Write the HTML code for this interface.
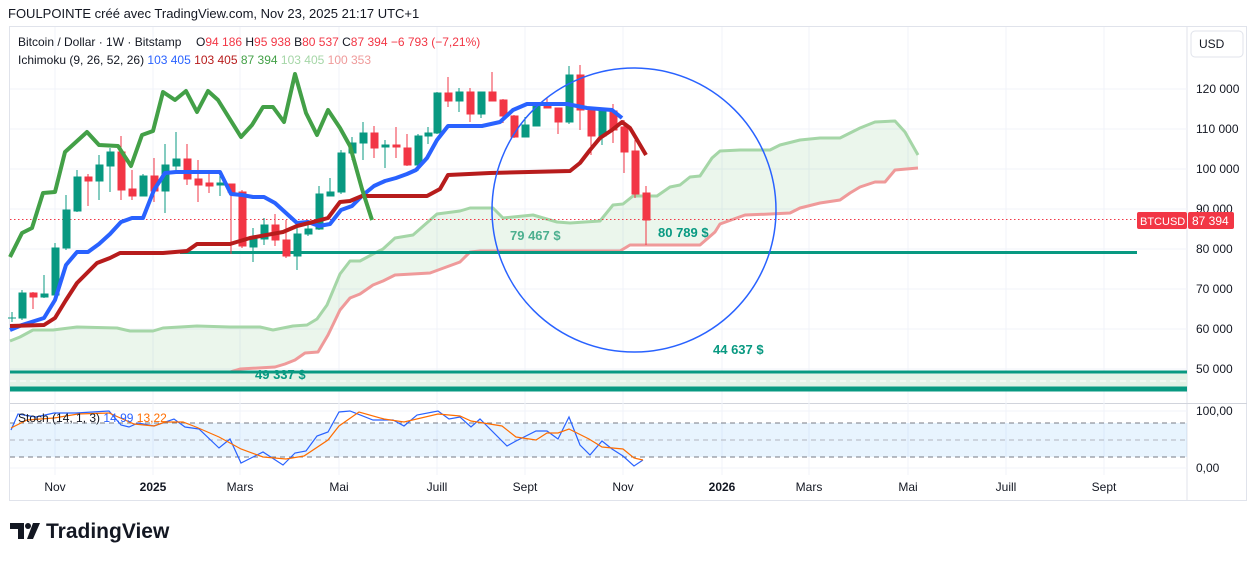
<!DOCTYPE html>
<html><head><meta charset="utf-8"><style>
body{margin:0;background:#fff;width:1257px;height:561px;overflow:hidden;font-family:"Liberation Sans",sans-serif}
</style></head><body>
<svg width="1257" height="561" viewBox="0 0 1257 561" xmlns="http://www.w3.org/2000/svg" font-family="Liberation Sans, sans-serif">
<text x="8" y="18" font-size="13" fill="#131722">FOULPOINTE créé avec TradingView.com, Nov 23, 2025 21:17 UTC+1</text>
<rect x="9.5" y="26.5" width="1237" height="474" fill="none" stroke="#e0e3eb"/>
<line x1="1187" y1="27" x2="1187" y2="500" stroke="#e0e3eb"/>
<line x1="10" y1="403.5" x2="1247" y2="403.5" stroke="#d1d4dc"/>
<g stroke="#f0f3fa" stroke-width="1">
<line x1="10" y1="89" x2="1187" y2="89"/><line x1="10" y1="129" x2="1187" y2="129"/><line x1="10" y1="169" x2="1187" y2="169"/><line x1="10" y1="209" x2="1187" y2="209"/><line x1="10" y1="249" x2="1187" y2="249"/><line x1="10" y1="289" x2="1187" y2="289"/><line x1="10" y1="329" x2="1187" y2="329"/><line x1="10" y1="369" x2="1187" y2="369"/>
<line x1="10" y1="411" x2="1187" y2="411"/><line x1="10" y1="468" x2="1187" y2="468"/>
<line x1="55" y1="27" x2="55" y2="475"/><line x1="153" y1="27" x2="153" y2="475"/><line x1="240" y1="27" x2="240" y2="475"/><line x1="339" y1="27" x2="339" y2="475"/><line x1="437" y1="27" x2="437" y2="475"/><line x1="525" y1="27" x2="525" y2="475"/><line x1="623" y1="27" x2="623" y2="475"/><line x1="722" y1="27" x2="722" y2="475"/><line x1="809" y1="27" x2="809" y2="475"/><line x1="908" y1="27" x2="908" y2="475"/><line x1="1006" y1="27" x2="1006" y2="475"/><line x1="1104" y1="27" x2="1104" y2="475"/>
</g>
<rect x="10" y="372" width="1177" height="17" fill="#e3f2e6"/>
<line x1="10" y1="381" x2="1187" y2="381" stroke="#fff" stroke-dasharray="6 4"/>
<polygon fill="rgba(76,175,80,0.11)" points="10,341 20,337 33,330 53,330 77,327 117,328 130,331 153,331 163,328 197,326 230,327 260,327 273,330 293,326 307,325 317,319 327,305 340,274 350,261 360,261 373,254 383,249 395,238 413,235 437,214 460,211 470,208 493,208 503,218 533,215 557,222 570,223 600,221 613,205 623,204 633,196 657,196 670,187 680,185 690,177 700,176 712,158 720,151 740,150 770,150 780,145 800,140 820,138 840,138 850,133 860,128 875,122 895,121 905,132 918,155 918,168 895,170 885,182 875,182 860,187 850,193 840,200 820,203 800,208 790,213 770,214 745,215 720,224 715,232 700,245 630,245 620,251 480,251 470,252 460,262 430,273 395,275 383,281 373,285 360,294 350,298 340,310 328,335 318,352 305,353 295,360 285,364 275,367 240,369 230,372 10,372"/>
<polyline fill="none" stroke="#a5d6a7" stroke-width="3" stroke-linejoin="round" points="10,341 20,337 33,330 53,330 77,327 117,328 130,331 153,331 163,328 197,326 230,327 260,327 273,330 293,326 307,325 317,319 327,305 340,274 350,261 360,261 373,254 383,249 395,238 413,235 437,214 460,211 470,208 493,208 503,218 533,215 557,222 570,223 600,221 613,205 623,204 633,196 657,196 670,187 680,185 690,177 700,176 712,158 720,151 740,150 770,150 780,145 800,140 820,138 840,138 850,133 860,128 875,122 895,121 905,132 918,155"/>
<polyline fill="none" stroke="#ef9a9a" stroke-width="3" stroke-linejoin="round" points="10,372 230,372 240,369 275,367 285,364 295,360 305,353 318,352 328,335 340,310 350,298 360,294 373,285 383,281 395,275 430,273 460,262 470,252 480,251 620,251 630,245 700,245 715,232 720,224 745,215 770,214 790,213 800,208 820,203 840,200 850,193 860,187 875,182 885,182 895,170 918,168"/>
<line x1="180" y1="252.5" x2="1137" y2="252.5" stroke="#089981" stroke-width="3"/>
<line x1="10" y1="372" x2="1187" y2="372" stroke="#089981" stroke-width="3"/>
<line x1="10" y1="389" x2="1187" y2="389" stroke="#089981" stroke-width="5"/>
<line x1="10" y1="219.5" x2="1187" y2="219.5" stroke="#f23645" stroke-dasharray="1.5 2.5"/>
<g stroke-width="1">
<g fill="#089981" stroke="#089981">
<line x1="12" y1="312" x2="12" y2="322"/><line x1="8" y1="318" x2="16" y2="318"/>
<line x1="22" y1="290" x2="22" y2="320"/><rect x="19" y="293" width="7" height="25"/>
<line x1="44" y1="275" x2="44" y2="298"/><rect x="41" y="294" width="7" height="3"/>
<line x1="55" y1="243" x2="55" y2="297"/><rect x="52" y="248" width="7" height="47"/>
<line x1="66" y1="195" x2="66" y2="250"/><rect x="63" y="210" width="7" height="38"/>
<line x1="77" y1="170" x2="77" y2="212"/><rect x="74" y="177" width="7" height="34"/>
<line x1="99" y1="155" x2="99" y2="200"/><rect x="96" y="165" width="7" height="16"/>
<line x1="110" y1="148" x2="110" y2="192"/><rect x="107" y="152" width="7" height="14"/>
<line x1="143" y1="174" x2="143" y2="196"/><rect x="140" y="176" width="7" height="20"/>
<line x1="165" y1="144" x2="165" y2="213"/><rect x="162" y="165" width="7" height="26"/>
<line x1="176" y1="132" x2="176" y2="170"/><rect x="173" y="159" width="7" height="7"/>
<line x1="220" y1="174" x2="220" y2="196"/><rect x="217" y="183" width="7" height="2"/>
<line x1="253" y1="228" x2="253" y2="262"/><rect x="250" y="239" width="7" height="8"/>
<line x1="264" y1="218" x2="264" y2="245"/><rect x="261" y="225" width="7" height="14"/>
<line x1="297" y1="224" x2="297" y2="270"/><rect x="294" y="234" width="7" height="22"/>
<line x1="308" y1="222" x2="308" y2="236"/><rect x="305" y="229" width="7" height="5"/>
<line x1="319" y1="186" x2="319" y2="230"/><rect x="316" y="194" width="7" height="35"/>
<line x1="330" y1="178" x2="330" y2="196"/><rect x="327" y="192" width="7" height="4"/>
<line x1="341" y1="150" x2="341" y2="194"/><rect x="338" y="153" width="7" height="39"/>
<line x1="352" y1="137" x2="352" y2="160"/><rect x="349" y="143" width="7" height="10"/>
<line x1="363" y1="122" x2="363" y2="160"/><rect x="360" y="133" width="7" height="10"/>
<line x1="385" y1="140" x2="385" y2="168"/><rect x="382" y="145" width="7" height="2"/>
<line x1="418" y1="134" x2="418" y2="171"/><rect x="415" y="136" width="7" height="29"/>
<line x1="428" y1="127" x2="428" y2="144"/><rect x="425" y="133" width="7" height="3"/>
<line x1="437" y1="92" x2="437" y2="134"/><rect x="434" y="93" width="7" height="40"/>
<line x1="459" y1="88" x2="459" y2="112"/><rect x="456" y="92" width="7" height="9"/>
<line x1="481" y1="92" x2="481" y2="118"/><rect x="478" y="92" width="7" height="22"/>
<line x1="525" y1="117" x2="525" y2="137"/><rect x="522" y="125" width="7" height="12"/>
<line x1="536" y1="104" x2="536" y2="126"/><rect x="533" y="104" width="7" height="22"/>
<line x1="569" y1="66" x2="569" y2="124"/><rect x="566" y="75" width="7" height="47"/>
<line x1="602" y1="110" x2="602" y2="145"/><rect x="599" y="111" width="7" height="25"/>
</g>
<g fill="#f23645" stroke="#f23645">
<line x1="33" y1="292" x2="33" y2="309"/><rect x="30" y="293" width="7" height="4"/>
<line x1="88" y1="174" x2="88" y2="206"/><rect x="85" y="177" width="7" height="4"/>
<line x1="121" y1="136" x2="121" y2="200"/><rect x="118" y="152" width="7" height="38"/>
<line x1="132" y1="170" x2="132" y2="200"/><rect x="129" y="189" width="7" height="7"/>
<line x1="154" y1="158" x2="154" y2="202"/><rect x="151" y="176" width="7" height="15"/>
<line x1="187" y1="144" x2="187" y2="185"/><rect x="184" y="159" width="7" height="20"/>
<line x1="198" y1="160" x2="198" y2="202"/><rect x="195" y="179" width="7" height="6"/>
<line x1="209" y1="174" x2="209" y2="193"/><rect x="206" y="183" width="7" height="3"/>
<line x1="231" y1="184" x2="231" y2="254"/><rect x="228" y="184" width="7" height="8"/>
<line x1="242" y1="190" x2="242" y2="248"/><rect x="239" y="192" width="7" height="54"/>
<line x1="275" y1="214" x2="275" y2="246"/><rect x="272" y="225" width="7" height="15"/>
<line x1="286" y1="220" x2="286" y2="258"/><rect x="283" y="240" width="7" height="16"/>
<line x1="374" y1="126" x2="374" y2="158"/><rect x="371" y="133" width="7" height="15"/>
<line x1="396" y1="127" x2="396" y2="158"/><rect x="393" y="145" width="7" height="2"/>
<line x1="407" y1="134" x2="407" y2="166"/><rect x="404" y="148" width="7" height="17"/>
<line x1="448" y1="77" x2="448" y2="107"/><rect x="445" y="93" width="7" height="8"/>
<line x1="470" y1="88" x2="470" y2="122"/><rect x="467" y="92" width="7" height="22"/>
<line x1="492" y1="72" x2="492" y2="101"/><rect x="489" y="92" width="7" height="9"/>
<line x1="503" y1="99" x2="503" y2="123"/><rect x="500" y="100" width="7" height="16"/>
<line x1="514" y1="115" x2="514" y2="138"/><rect x="511" y="116" width="7" height="21"/>
<line x1="547" y1="98" x2="547" y2="108"/><rect x="544" y="104" width="7" height="4"/>
<line x1="558" y1="108" x2="558" y2="134"/><rect x="555" y="108" width="7" height="14"/>
<line x1="580" y1="65" x2="580" y2="130"/><rect x="577" y="75" width="7" height="35"/>
<line x1="591" y1="110" x2="591" y2="155"/><rect x="588" y="110" width="7" height="26"/>
<line x1="613" y1="104" x2="613" y2="143"/><rect x="610" y="111" width="7" height="19"/>
<line x1="624" y1="120" x2="624" y2="173"/><rect x="621" y="127" width="7" height="25"/>
<line x1="635" y1="140" x2="635" y2="198"/><rect x="632" y="151" width="7" height="43"/>
<line x1="646" y1="186" x2="646" y2="245"/><rect x="643" y="193" width="7" height="27"/>
</g>
</g>
<polyline fill="none" stroke="#2962ff" stroke-width="4" stroke-linejoin="round" points="10,330 22,325 44,318 55,300 66,265 77,252 88,252 99,244 110,234 121,222 132,218 143,218 154,190 165,173 176,172 220,172 231,194 242,195 253,197 264,197 275,203 286,213 297,223 308,222 319,226 330,224 341,210 352,206 363,195 374,186 385,181 396,178 407,174 416,170 427,158 437,140 448,126 482,126 500,122 513,110 527,104 567,104 587,108 612,110 622,118"/>
<polyline fill="none" stroke="#b71c1c" stroke-width="4" stroke-linejoin="round" points="10,326 44,325 55,318 66,300 77,283 88,272 97,263 110,258 120,253 163,253 187,251 197,244 230,244 250,238 283,232 297,226 313,222 328,218 340,202 350,201 362,196 427,196 440,189 448,175 490,173 570,171 580,163 590,150 600,138 612,130 622,122 630,128 636,138 646,155"/>
<polyline fill="none" stroke="#43a047" stroke-width="4" stroke-linejoin="round" points="10,257 22,233 32,228 43,193 55,192 65,152 87,132 99,145 118,146 131,166 142,135 153,131 163,92 175,100 186,91 197,112 208,91 218,100 241,137 252,125 263,107 273,107 284,122 295,74 306,113 317,135 328,110 340,128 350,146 362,189 372,220"/>
<circle cx="634" cy="210" r="142" fill="none" stroke="#2962ff" stroke-width="1.5"/>
<g fill="#089981" font-weight="bold" font-size="13">
<text x="510" y="240" fill="#4caf8f">79 467 $</text>
<text x="658" y="237">80 789 $</text>
<text x="713" y="354">44 637 $</text>
<text x="255" y="379">49 337 $</text>
</g>
<g font-size="12" fill="#131722">
<text x="1196" y="93">120 000</text><text x="1196" y="133">110 000</text><text x="1196" y="173">100 000</text><text x="1196" y="213">90 000</text><text x="1196" y="253">80 000</text><text x="1196" y="293">70 000</text><text x="1196" y="333">60 000</text><text x="1196" y="373">50 000</text>
<text x="1196" y="415">100,00</text><text x="1196" y="472">0,00</text>
</g>
<rect x="1191" y="31" width="52" height="26" rx="4" fill="#fff" stroke="#e0e3eb"/>
<text x="1199" y="48" font-size="12" fill="#131722">USD</text>
<rect x="1137" y="212" width="50" height="17" rx="2" fill="#f23645"/>
<rect x="1188" y="212" width="46" height="17" rx="2" fill="#f23645"/>
<text x="1140" y="225" font-size="11" fill="#fff">BTCUSD</text>
<text x="1192" y="225" font-size="12" fill="#fff">87 394</text>
<g font-size="12" fill="#131722">
<text x="18" y="46">Bitcoin / Dollar · 1W · Bitstamp</text>
<text x="196" y="46">O<tspan fill="#f23645">94 186</tspan> H<tspan fill="#f23645">95 938</tspan> B<tspan fill="#f23645">80 537</tspan> C<tspan fill="#f23645">87 394 −6 793 (−7,21%)</tspan></text>
<text x="18" y="64">Ichimoku (9, 26, 52, 26) <tspan fill="#2962ff">103 405</tspan> <tspan fill="#b71c1c">103 405</tspan> <tspan fill="#43a047">87 394</tspan> <tspan fill="#a5d6a7">103 405</tspan> <tspan fill="#ef9a9a">100 353</tspan></text>
</g>
<rect x="10" y="423" width="1177" height="34" fill="rgba(33,150,243,0.1)"/>
<g stroke="#787b86" stroke-dasharray="5 4"><line x1="10" y1="423" x2="1187" y2="423"/><line x1="10" y1="457" x2="1187" y2="457"/></g>
<line x1="10" y1="440" x2="1187" y2="440" stroke="#b2b5be" stroke-dasharray="5 4"/>
<polyline fill="none" stroke="#2962ff" stroke-width="1.2" points="11,430 18,414 36,417 54,413 76,413 109,411 121,425 129,427 138,423 154,426 174,419 185,427 199,429 219,448 230,439 241,463 263,452 283,465 295,453 306,451 317,436 328,432 339,412 350,411 373,420 393,420 404,426 417,415 438,411 449,419 460,417 471,427 480,419 507,446 516,441 536,431 547,431 558,439 569,417 580,445 590,455 602,441 612,449 623,456 634,466 643,460"/>
<polyline fill="none" stroke="#ff6d00" stroke-width="1.2" points="11,428 27,420 54,418 78,414 109,413 134,424 154,426 165,422 183,422 196,427 219,437 241,449 263,457 286,459 304,456 328,440 339,426 359,412 384,419 404,422 438,414 460,416 471,421 502,426 516,437 536,440 547,433 558,433 569,429 589,439 602,447 623,449 634,458 643,460"/>
<text x="18" y="422" font-size="12" fill="#131722">Stoch (14, 1, 3) <tspan fill="#2962ff">14,99</tspan> <tspan fill="#ff6d00">13,22</tspan></text>
<g font-size="12" fill="#131722" text-anchor="middle">
<text x="55" y="491">Nov</text><text x="153" y="491" font-weight="bold">2025</text><text x="240" y="491">Mars</text><text x="339" y="491">Mai</text><text x="437" y="491">Juill</text><text x="525" y="491">Sept</text><text x="623" y="491">Nov</text><text x="722" y="491" font-weight="bold">2026</text><text x="809" y="491">Mars</text><text x="908" y="491">Mai</text><text x="1006" y="491">Juill</text><text x="1104" y="491">Sept</text>
</g>
<g fill="#131722">
<path d="M10 523h14v16h-6v-10h-8z"/>
<circle cx="28" cy="526" r="3"/>
<path d="M33 523h7l-7 16h-6z"/>
</g>
<text x="46" y="538" font-size="21" font-weight="bold" fill="#131722">TradingView</text>
</svg>
</body></html>
